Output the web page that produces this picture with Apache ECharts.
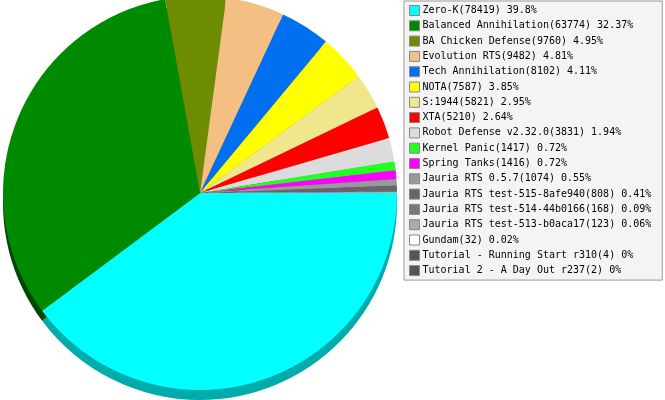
<!DOCTYPE html>
<html>
<head>
<meta charset="utf-8">
<script src="https://cdn.jsdelivr.net/npm/echarts@6/dist/echarts.min.js"></script>
<style>html,body{margin:0;padding:0;background:#fff}#c{width:665px;height:400px}</style>
</head>
<body>
<div id="c"></div>
<script>
const names = ["Zero-K","Balanced Annihilation","BA Chicken Defense","Evolution RTS","Tech Annihilation","NOTA","S:1944","XTA","Robot Defense v2.32.0","Kernel Panic","Spring Tanks","Jauria RTS 0.5.7","Jauria RTS test-515-8afe940","Jauria RTS test-514-44b0166","Jauria RTS test-513-b0aca17","Gundam","Tutorial - Running Start r310","Tutorial 2 - A Day Out r237"];
const values = [78419,63774,9760,9482,8102,7587,5821,5210,3831,1417,1416,1074,808,168,123,32,4,2];
const percents = ["39.8","32.37","4.95","4.81","4.11","3.85","2.95","2.64","1.94","0.72","0.72","0.55","0.41","0.09","0.06","0.02","0","0"];
const colors = ["#00FFFF","#008A00","#6E8C00","#F4BF82","#0070F0","#FFFF00","#F0E68C","#FF0000","#DCDCDC","#22FF22","#FF00FF","#999999","#666666","#777777","#AAAAAA","#FFFFFF","#555555","#555555"];

function darken(hex, f){
  const n = parseInt(hex.slice(1),16);
  const r = Math.round(((n>>16)&255)*f), g = Math.round(((n>>8)&255)*f), b = Math.round((n&255)*f);
  return 'rgb('+r+','+g+','+b+')';
}
const topData = names.map((n,i)=>({name:n, value:values[i], itemStyle:{color:colors[i]}}));
const sideData = names.map((n,i)=>({name:n, value:values[i], itemStyle:{color:darken(colors[i], i===1?0.5:0.67)}}));
const pctMap = {}; const valMap = {};
names.forEach((n,i)=>{pctMap[n]=percents[i]; valMap[n]=values[i];});

const chart = echarts.init(document.getElementById('c'), null, {renderer:'canvas'});
chart.setOption({
  animation:false,
  legend:{
    orient:'vertical', left:404, top:1,
    data:names,
    itemWidth:10, itemHeight:10, itemGap:4.3,
    padding:[4,11,4,5],
    backgroundColor:'#F4F4F4', borderColor:'#999999', borderWidth:1, borderRadius:0,
    icon:'rect',
    itemStyle:{borderColor:'#888888', borderWidth:1},
    textStyle:{fontFamily:'DejaVu Sans Mono', fontSize:10, color:'#000', padding:[0,0,0,-2], lineHeight:10},
    selectedMode:false,
    formatter:function(n){return n+'('+valMap[n]+') '+pctMap[n]+'%';}
  },
  series:[
    {type:'pie', name:'top', z:3, center:[200,193], radius:[0,197], startAngle:0, clockwise:true,
     label:{show:false}, labelLine:{show:false}, silent:true, minAngle:0, avoidLabelOverlap:false,
     itemStyle:{borderWidth:0}, emphasis:{disabled:true}, data:topData},
    {type:'pie', name:'side', z:2, center:[200,203], radius:[0,197], startAngle:0, clockwise:true,
     label:{show:false}, labelLine:{show:false}, silent:true,
     itemStyle:{borderWidth:0}, emphasis:{disabled:true}, data:sideData}
  ]
});
</script>
</body>
</html>
